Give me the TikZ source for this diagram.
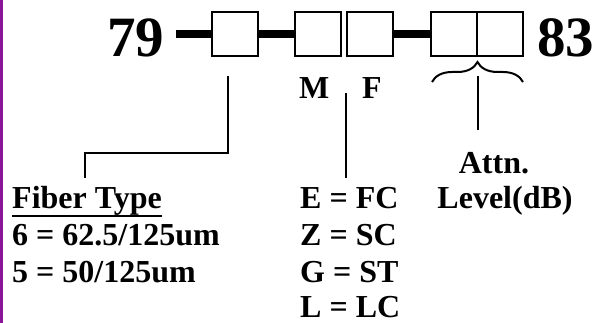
\documentclass[tikz,border=0pt]{standalone}
\usepackage{fontspec}
\setmainfont{Liberation Serif}
\usetikzlibrary{decorations.pathreplacing}
\definecolor{edgepurple}{RGB}{140,20,150}
\begin{document}
\begin{tikzpicture}[x=1pt,y=-1pt,
  big/.style={font=\fontsize{57}{57}\selectfont\bfseries, inner sep=0pt, anchor=base west},
  lbl/.style={font=\fontsize{32}{37}\selectfont\bfseries, inner sep=0pt, anchor=base west},
  slot/.style={draw, line width=2pt, minimum width=46pt, minimum height=44pt, inner sep=0pt, fill=white},
  bar/.style={line width=8pt},
  lead/.style={line width=2pt}]
\useasboundingbox (0,0) rectangle (595,323);
\draw[edgepurple, line width=2.5pt] (1.5,0) -- (1.5,323);

% code line
\node[big] (n79) at (107,57) {79};
\node[big] (n83) at (537,57) {83};
\node[slot] (b1) at (234.5,34) {};
\node[slot] (b2) at (318,34) {};
\node[slot] (b3) at (369.5,34) {};
\node[slot] (b4) at (454,34) {};
\node[slot] (b5) at (500,34) {};
\coordinate (barstart) at (176,34);
\draw[bar] (barstart) -- (b1.west);
\draw[bar] (b1.east) -- (b2.west);
\draw[bar] (b3.east) -- (b4.west);

% M / F
\node[lbl] (m) at (299,99) {M};
\node[lbl] (f) at (362,99) {F};

% brace
\draw[lead, decorate, decoration={brace, amplitude=20pt}] (432,82) -- (523,82);

% leader lines
\coordinate (f1) at (228,76);
\coordinate (f2) at (85,178);
\draw[lead] (f1) -- ++(0,77) -| (f2);
\coordinate (c1) at (346,93);
\coordinate (c2) at (346,178);
\draw[lead] (c1) -- (c2);
\coordinate (a1) at (478,76);
\coordinate (a2) at (478,130);
\draw[lead] (a1) -- (a2);

% fiber type
\node[lbl] (ft) at (12,209) {Fiber Type};
\draw[line width=2.5pt] ([yshift=-7pt]ft.base west) -- ([yshift=-7pt]ft.base east);
\node[lbl] (ft6) at (12,246) {6 = 62.5/125um};
\node[lbl] (ft5) at (12,283) {5 = 50/125um};

% connector type
\node[lbl] (ce) at (300,209) {E = FC};
\node[lbl] (cz) at (300,246) {Z = SC};
\node[lbl] (cg) at (300,283) {G = ST};
\node[lbl] (cl) at (300,318) {L = LC};

% attenuation
\node[lbl, anchor=base] (att) at (494,174) {Attn.};
\node[lbl, anchor=base] (lev) at (505,209) {Level(dB)};
\end{tikzpicture}
\end{document}
